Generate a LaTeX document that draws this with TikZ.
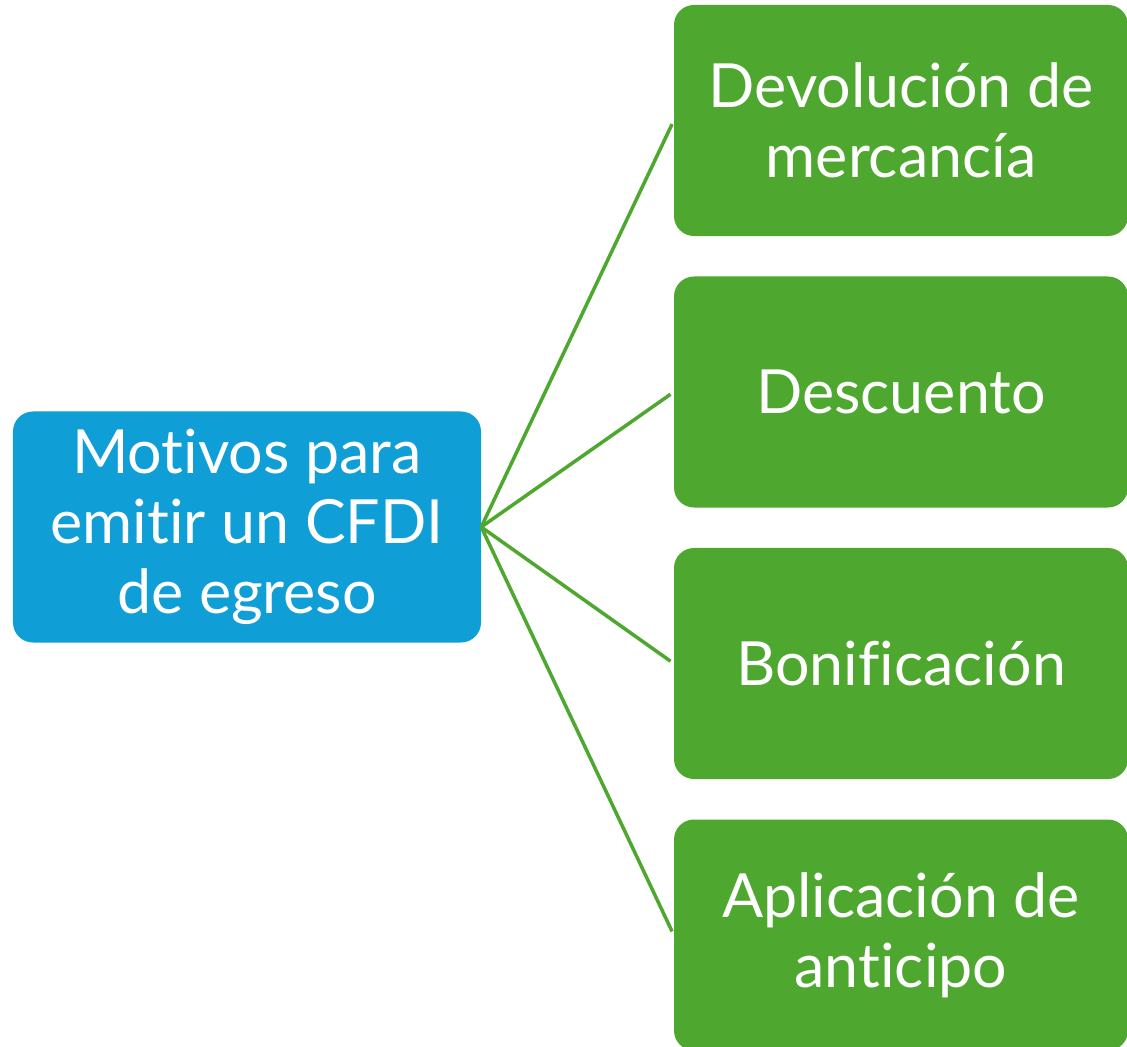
\documentclass[tikz,border=0pt]{standalone}
\usepackage{fontspec}
\setmainfont{Lato}[Ligatures=NoCommon]
\usepackage{tikz}

\definecolor{azul}{HTML}{0F9ED5}
\definecolor{verde}{HTML}{4EA72E}

\tikzset{
  caja/.style={rounded corners=0.6cm, inner sep=0pt, align=center, text=white,
    font=\fontsize{52}{60}\selectfont, minimum height=6.93cm},
  motivo/.style={caja, fill=azul, minimum width=14.04cm},
  razon/.style={caja, fill=verde, minimum width=13.62cm},
  liga/.style={draw=verde, line width=3pt, shorten >=0.12cm}
}

\begin{document}
\begin{tikzpicture}[x=0.03cm, y=-0.03cm]
            \useasboundingbox (0,0) rectangle (1127,1047);

            \node[motivo] (m) at (247,527) {Motivos para\\emitir un CFDI\\de egreso};

            \node[razon] (r1) at (901,120.5) {Devolución de\\mercancía};
            \node[razon] (r2) at (901,392) {Descuento};
            \node[razon] (r3) at (901,663.5) {Bonificación};
            \node[razon] (r4) at (901,935) {Aplicación de\\anticipo};

            \draw[liga] (m.east) -- (r1.west);
            \draw[liga] (m.east) -- (r2.west);
            \draw[liga] (m.east) -- (r3.west);
            \draw[liga] (m.east) -- (r4.west);
        \end{tikzpicture}
\end{document}
